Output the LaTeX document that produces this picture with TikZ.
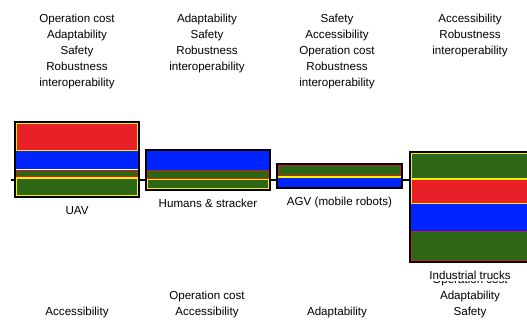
\documentclass[tikz,border=0pt]{standalone}
\usepackage{fontspec}
\setmainfont{Liberation Sans}
\usetikzlibrary{positioning, fit, backgrounds}
\definecolor{bandred}{RGB}{232,32,40}
\definecolor{bandblue}{RGB}{0,36,255}
\definecolor{bandgreen}{RGB}{45,103,22}
\definecolor{edgeyellow}{RGB}{255,240,0}
\definecolor{edgered}{RGB}{205,30,35}

\begin{document}
\begin{tikzpicture}[
      x=0.75pt, y=-0.75pt,
      every node/.style={font=\fontsize{8.7}{12}\selectfont},
      frame/.style={draw=black, line width=1.5pt, inner sep=0pt},
      redband/.style={fill=bandred, draw=edgeyellow, line width=1.4pt},
      greenband/.style={fill=bandgreen, draw=edgeyellow, line width=1.4pt},
      greenred/.style={fill=bandgreen, draw=edgered, line width=1.4pt},
      blueband/.style={fill=bandblue},
      yellowband/.style={fill=edgeyellow},
      crit/.style={align=center, inner sep=0pt},
      lbl/.style={inner sep=1pt, below=5pt of #1}
    ]
      \clip (0,0) rectangle (527,323);

      % criteria above
      \node[crit, anchor=north] (topuav) at (77,14)
        {Operation cost\\Adaptability\\Safety\\Robustness\\interoperability};
      \node[crit, anchor=north] (tophum) at (207,14)
        {Adaptability\\Safety\\Robustness\\interoperability};
      \node[crit, anchor=north] (topagv) at (337,14)
        {Safety\\Accessibility\\Operation cost\\Robustness\\interoperability};
      \node[crit, anchor=north] (toptrk) at (470,14)
        {Accessibility\\Robustness\\interoperability};

      % UAV
      \draw[redband] (16.5,123.5) rectangle (137.5,150.5);
      \fill[blueband] (16,151.5) rectangle (138,169.5);
      \draw[greenred] (16.5,170.5) rectangle (137.5,177);
      \draw[greenband] (16.5,178) rectangle (137.5,195.5);
      \node[frame, fit={(15,122) (139,197)}] (uav) {};
      \node[lbl=uav] (uavlbl) {UAV};

      % Humans
      \fill[blueband] (147,151) rectangle (269,170);
      \draw[greenred] (147.5,170.5) rectangle (268.5,178.5);
      \draw[greenband] (147.5,179.5) rectangle (268.5,188.5);
      \node[frame, fit={(146,150) (270,190)}] (hum) {};
      \node[lbl=hum] (humlbl) {Humans \& stracker};

      % AGV
      \draw[greenred] (278.5,165.5) rectangle (400.5,175.5);
      \fill[yellowband] (278,176) rectangle (401,178.5);
      \fill[blueband] (278,178.5) rectangle (401,187);
      \node[frame, fit={(277,164) (402,188)}] (agv) {};
      \node[lbl=agv] (agvlbl) {AGV (mobile robots)};

      % Industrial trucks
      \draw[greenband] (411.5,153.5) rectangle (528.5,179);
      \draw[redband] (411.5,179.5) rectangle (528.5,204);
      \fill[blueband] (411,204.5) rectangle (529,231);
      \draw[greenred] (411.5,231.5) rectangle (528.5,260.5);
      \node[frame, fit={(410,152) (530,262)}] (trk) {};

      % criteria below
      \node[crit, anchor=south] (botuav) at (77,318) {Accessibility};
      \node[crit, anchor=south] (bothum) at (207,318)
        {Operation cost\\Accessibility};
      \node[crit, anchor=south] (botagv) at (337,318) {Adaptability};
      \node[crit, anchor=south] (bottrk) at (470,318)
        {Operation cost\\Adaptability\\Safety};
      \node[lbl=trk, fill=white] (trklbl) {Industrial trucks};

      \coordinate (lstart) at (11,180);
      \begin{scope}[on background layer]
        \draw[line width=0.8pt] (lstart) -- (lstart -| trk.west);
      \end{scope}
    \end{tikzpicture}
\end{document}
